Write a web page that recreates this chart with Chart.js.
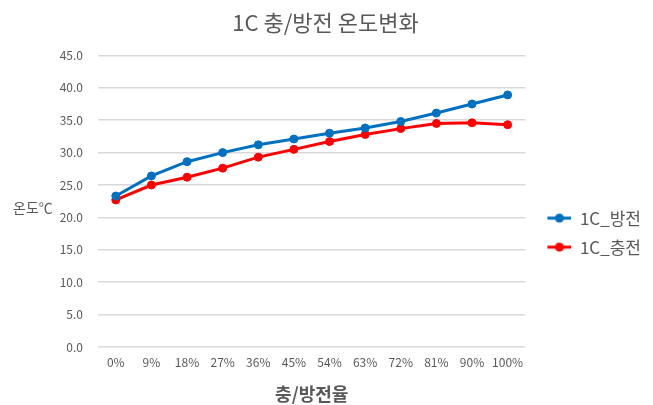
<!DOCTYPE html>
<html>
<head>
<meta charset="utf-8">
<script src="https://cdn.jsdelivr.net/npm/chart.js@4.4.0/dist/chart.umd.min.js"></script>
<style>
  html, body { margin: 0; padding: 0; background: #ffffff; }
  #c { display: block; }
</style>
</head>
<body>
<canvas id="c" width="653" height="405"></canvas>
<script>
// Charge / discharge progress (x axis)
const categories = ['0%', '9%', '18%', '27%', '36%', '45%', '54%', '63%', '72%', '81%', '90%', '100%'];
// Cell temperature (°C) during 1C discharge
const dischargeTemps = [23.3, 26.4, 28.6, 30.0, 31.2, 32.1, 33.0, 33.8, 34.8, 36.1, 37.5, 38.9];
// Cell temperature (°C) during 1C charge
const chargeTemps = [22.7, 25.0, 26.2, 27.6, 29.3, 30.5, 31.7, 32.8, 33.7, 34.5, 34.6, 34.3];
// Y axis range and step
const yMin = 0, yMax = 45, yStep = 5;

const seriesNames = ['1C_방전', '1C_충전'];
const seriesColors = ['#0070C0', '#FF0000'];

const FONT = "'Noto Sans CJK KR', 'Noto Sans', sans-serif";
const TEXT = '#595959';

// Legend marker: short line with a dot in the middle (small blank lead-in on the left)
function lineMarker(color) {
  const cv = document.createElement('canvas');
  cv.width = 34; cv.height = 12;
  const g = cv.getContext('2d');
  g.strokeStyle = color; g.lineWidth = 3;
  g.beginPath(); g.moveTo(10, 6); g.lineTo(34, 6); g.stroke();
  g.fillStyle = color;
  g.beginPath(); g.arc(22, 6, 4.5, 0, Math.PI * 2); g.fill();
  return cv;
}

// Horizontal y-axis caption on the left
const yCaption = {
  id: 'yCaption',
  afterDraw(chart) {
    const ctx = chart.ctx;
    ctx.save();
    ctx.font = '14px ' + FONT;
    ctx.fillStyle = TEXT;
    ctx.textAlign = 'left';
    ctx.textBaseline = 'middle';
    ctx.fillText('온도℃', 13, 208);
    ctx.restore();
  }
};

new Chart(document.getElementById('c'), {
  type: 'line',
  data: {
    labels: categories,
    datasets: [
      { label: seriesNames[0], data: dischargeTemps },
      { label: seriesNames[1], data: chargeTemps }
    ].map((d, i) => Object.assign(d, {
      borderColor: seriesColors[i],
      backgroundColor: seriesColors[i],
      pointBackgroundColor: seriesColors[i],
      pointBorderColor: seriesColors[i],
      borderWidth: 3,
      pointRadius: 4,
      pointBorderWidth: 1,
      pointHoverRadius: 4,
      tension: 0,
      fill: false
    }))
  },
  options: {
    responsive: false,
    animation: false,
    devicePixelRatio: 1,
    layout: { padding: { left: 0, right: 2, top: 0, bottom: 0 } },
    plugins: {
      title: {
        display: true,
        text: '1C 충/방전 온도변화',
        color: TEXT,
        font: { family: FONT, size: 22, weight: 'normal' },
        padding: { top: 9, bottom: 20 }
      },
      legend: {
        position: 'right',
        align: 'center',
        title: {
          display: true,
          text: '',
          font: { size: 1 },
          padding: { top: 59, bottom: 0 }
        },
        labels: {
          usePointStyle: true,
          pointStyleWidth: 34,
          padding: 12,
          color: TEXT,
          font: { family: FONT, size: 17 },
          generateLabels(chart) {
            return chart.data.datasets.map((ds, i) => ({
              text: ds.label,
              fontColor: TEXT,
              pointStyle: lineMarker(seriesColors[i]),
              fillStyle: seriesColors[i],
              strokeStyle: seriesColors[i],
              lineWidth: 0,
              hidden: false,
              datasetIndex: i
            }));
          }
        }
      },
      tooltip: { enabled: false }
    },
    scales: {
      x: {
        offset: true,
        grid: { display: false, drawTicks: false },
        border: { display: false },
        ticks: { color: TEXT, font: { family: FONT, size: 12 }, padding: 8, maxRotation: 0, autoSkip: false },
        title: {
          display: true,
          text: '충/방전율',
          color: TEXT,
          font: { family: FONT, size: 18, weight: 'bold' },
          padding: { top: 4, bottom: 0 }
        },
        afterFit(scale) { scale.height = 58; }
      },
      y: {
        min: yMin,
        max: yMax,
        grid: { color: '#D9D9D9', lineWidth: 1.5, drawTicks: false },
        border: { display: false },
        ticks: {
          stepSize: yStep,
          color: TEXT,
          font: { family: FONT, size: 12 },
          padding: 15,
          callback: v => v.toFixed(1)
        },
        afterFit(scale) { scale.width = 98; }
      }
    }
  },
  plugins: [yCaption]
});
</script>
</body>
</html>
